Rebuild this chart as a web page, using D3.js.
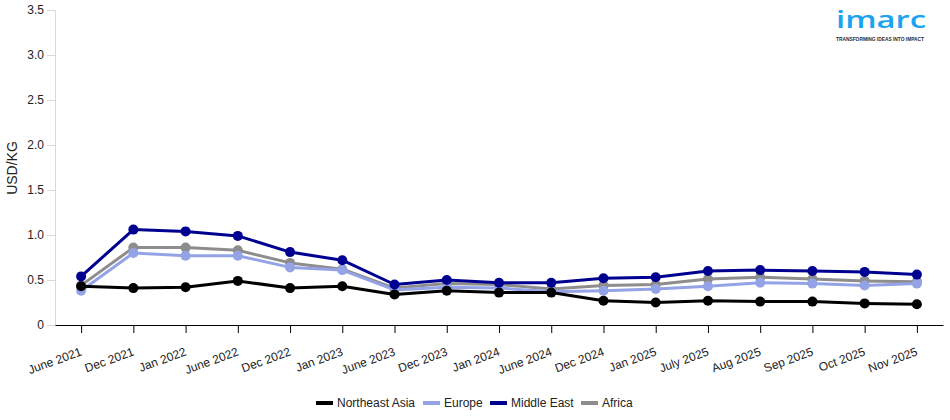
<!DOCTYPE html>
<html><head><meta charset="utf-8">
<script src="https://cdn.jsdelivr.net/npm/d3@7"></script>
<style>body{margin:0;background:#fff;font-family:Arial,"Liberation Sans",sans-serif;}</style>
</head><body><svg id="c" width="950" height="420"></svg>
<script>
const categories = ["June 2021","Dec 2021","Jan 2022","June 2022","Dec 2022","Jan 2023","June 2023","Dec 2023","Jan 2024","June 2024","Dec 2024","Jan 2025","July 2025","Aug 2025","Sep 2025","Oct 2025","Nov 2025"];
const northeastAsia = [0.43,0.41,0.42,0.49,0.41,0.43,0.34,0.38,0.36,0.36,0.27,0.25,0.27,0.26,0.26,0.24,0.23];
const europe =        [0.38,0.80,0.77,0.77,0.64,0.61,0.39,0.42,0.41,0.37,0.38,0.40,0.43,0.47,0.46,0.44,0.46];
const middleEast =    [0.54,1.06,1.04,0.99,0.81,0.72,0.45,0.50,0.47,0.47,0.52,0.53,0.60,0.61,0.60,0.59,0.56];
const africa =        [0.44,0.86,0.86,0.83,0.69,0.62,0.41,0.46,0.45,0.40,0.44,0.45,0.51,0.53,0.51,0.49,0.48];
const yTicks = [0,0.5,1.0,1.5,2.0,2.5,3.0,3.5];
const seriesNames = ["Northeast Asia","Europe","Middle East","Africa"];
const seriesColors = ["#000000","#93a3e6","#000090","#8e8c8c"];
const seriesData = [northeastAsia, europe, middleEast, africa];

const svg = d3.select("#c");
const m = {l:55, r:943, t:10, b:325};
const x = d3.scalePoint().domain(categories).range([m.l, m.r]).padding(0.5);
const y = d3.scaleLinear().domain([0,3.5]).range([m.b, m.t]);

// Y axis
const ya = svg.append("g").attr("transform",`translate(${m.l},0)`)
  .call(d3.axisLeft(y).tickValues(yTicks).tickSize(8).tickPadding(3).tickFormat(d=> d===0?"0":d3.format(".1f")(d)));
ya.select(".domain").attr("stroke","#d9d9d9");
ya.selectAll(".tick line").attr("stroke","#d9d9d9");
ya.selectAll("text").attr("font-size","12px").attr("fill","#222").attr("font-family","Arial,'Liberation Sans',sans-serif");

// X axis
const xa = svg.append("g").attr("transform",`translate(0,${m.b})`)
  .call(d3.axisBottom(x).tickSize(8).tickSizeOuter(0));
xa.select(".domain").attr("stroke","#000").attr("stroke-width",1.2);
xa.selectAll(".tick line").attr("stroke","#000");
xa.selectAll("text").attr("font-size","12px").attr("fill","#222")
  .attr("font-family","Arial,'Liberation Sans',sans-serif")
  .attr("text-anchor","end").attr("dy","0").attr("y",0)
  .attr("transform","translate(1,30) rotate(-20)");

// Y title
svg.append("text").attr("transform",`translate(17,168) rotate(-90)`)
  .attr("text-anchor","middle").attr("font-size","14px").attr("fill","#222").text("USD/KG");

// Lines
const order = [3,1,0,2];
const line = d3.line().x((d,i)=>x(categories[i])).y(d=>y(d));
order.forEach(k=>{
  const g = svg.append("g");
  g.append("path").datum(seriesData[k]).attr("d",line).attr("fill","none")
    .attr("stroke",seriesColors[k]).attr("stroke-width",3).attr("stroke-linejoin","round");
  g.selectAll("circle").data(seriesData[k]).join("circle")
    .attr("cx",(d,i)=>x(categories[i])).attr("cy",d=>y(d)).attr("r",5).attr("fill",seriesColors[k]);
});

// Legend
const legX = [316,423,490,581];
const lg = svg.append("g");
seriesNames.forEach((n,i)=>{
  lg.append("line").attr("x1",legX[i]).attr("x2",legX[i]+17).attr("y1",403).attr("y2",403)
    .attr("stroke",seriesColors[i]).attr("stroke-width",4);
  lg.append("text").attr("x",legX[i]+21).attr("y",407).attr("font-size","12px").attr("fill","#222").text(n);
});

// Logo
svg.append("text").attr("x",836).attr("y",28)
  .attr("font-size","24px").attr("font-weight","600").attr("fill","#1aa3f0")
  .attr("textLength",90).attr("lengthAdjust","spacingAndGlyphs")
  .attr("font-family","'Open Sans',Lato,Arial,sans-serif").text("imarc");
svg.append("text").attr("x",836).attr("y",41)
  .attr("textLength",88).attr("lengthAdjust","spacingAndGlyphs")
  .attr("font-size","5.5px").attr("font-weight","bold").attr("fill","#1d2a3a").text("TRANSFORMING IDEAS INTO IMPACT");
</script></body></html>
